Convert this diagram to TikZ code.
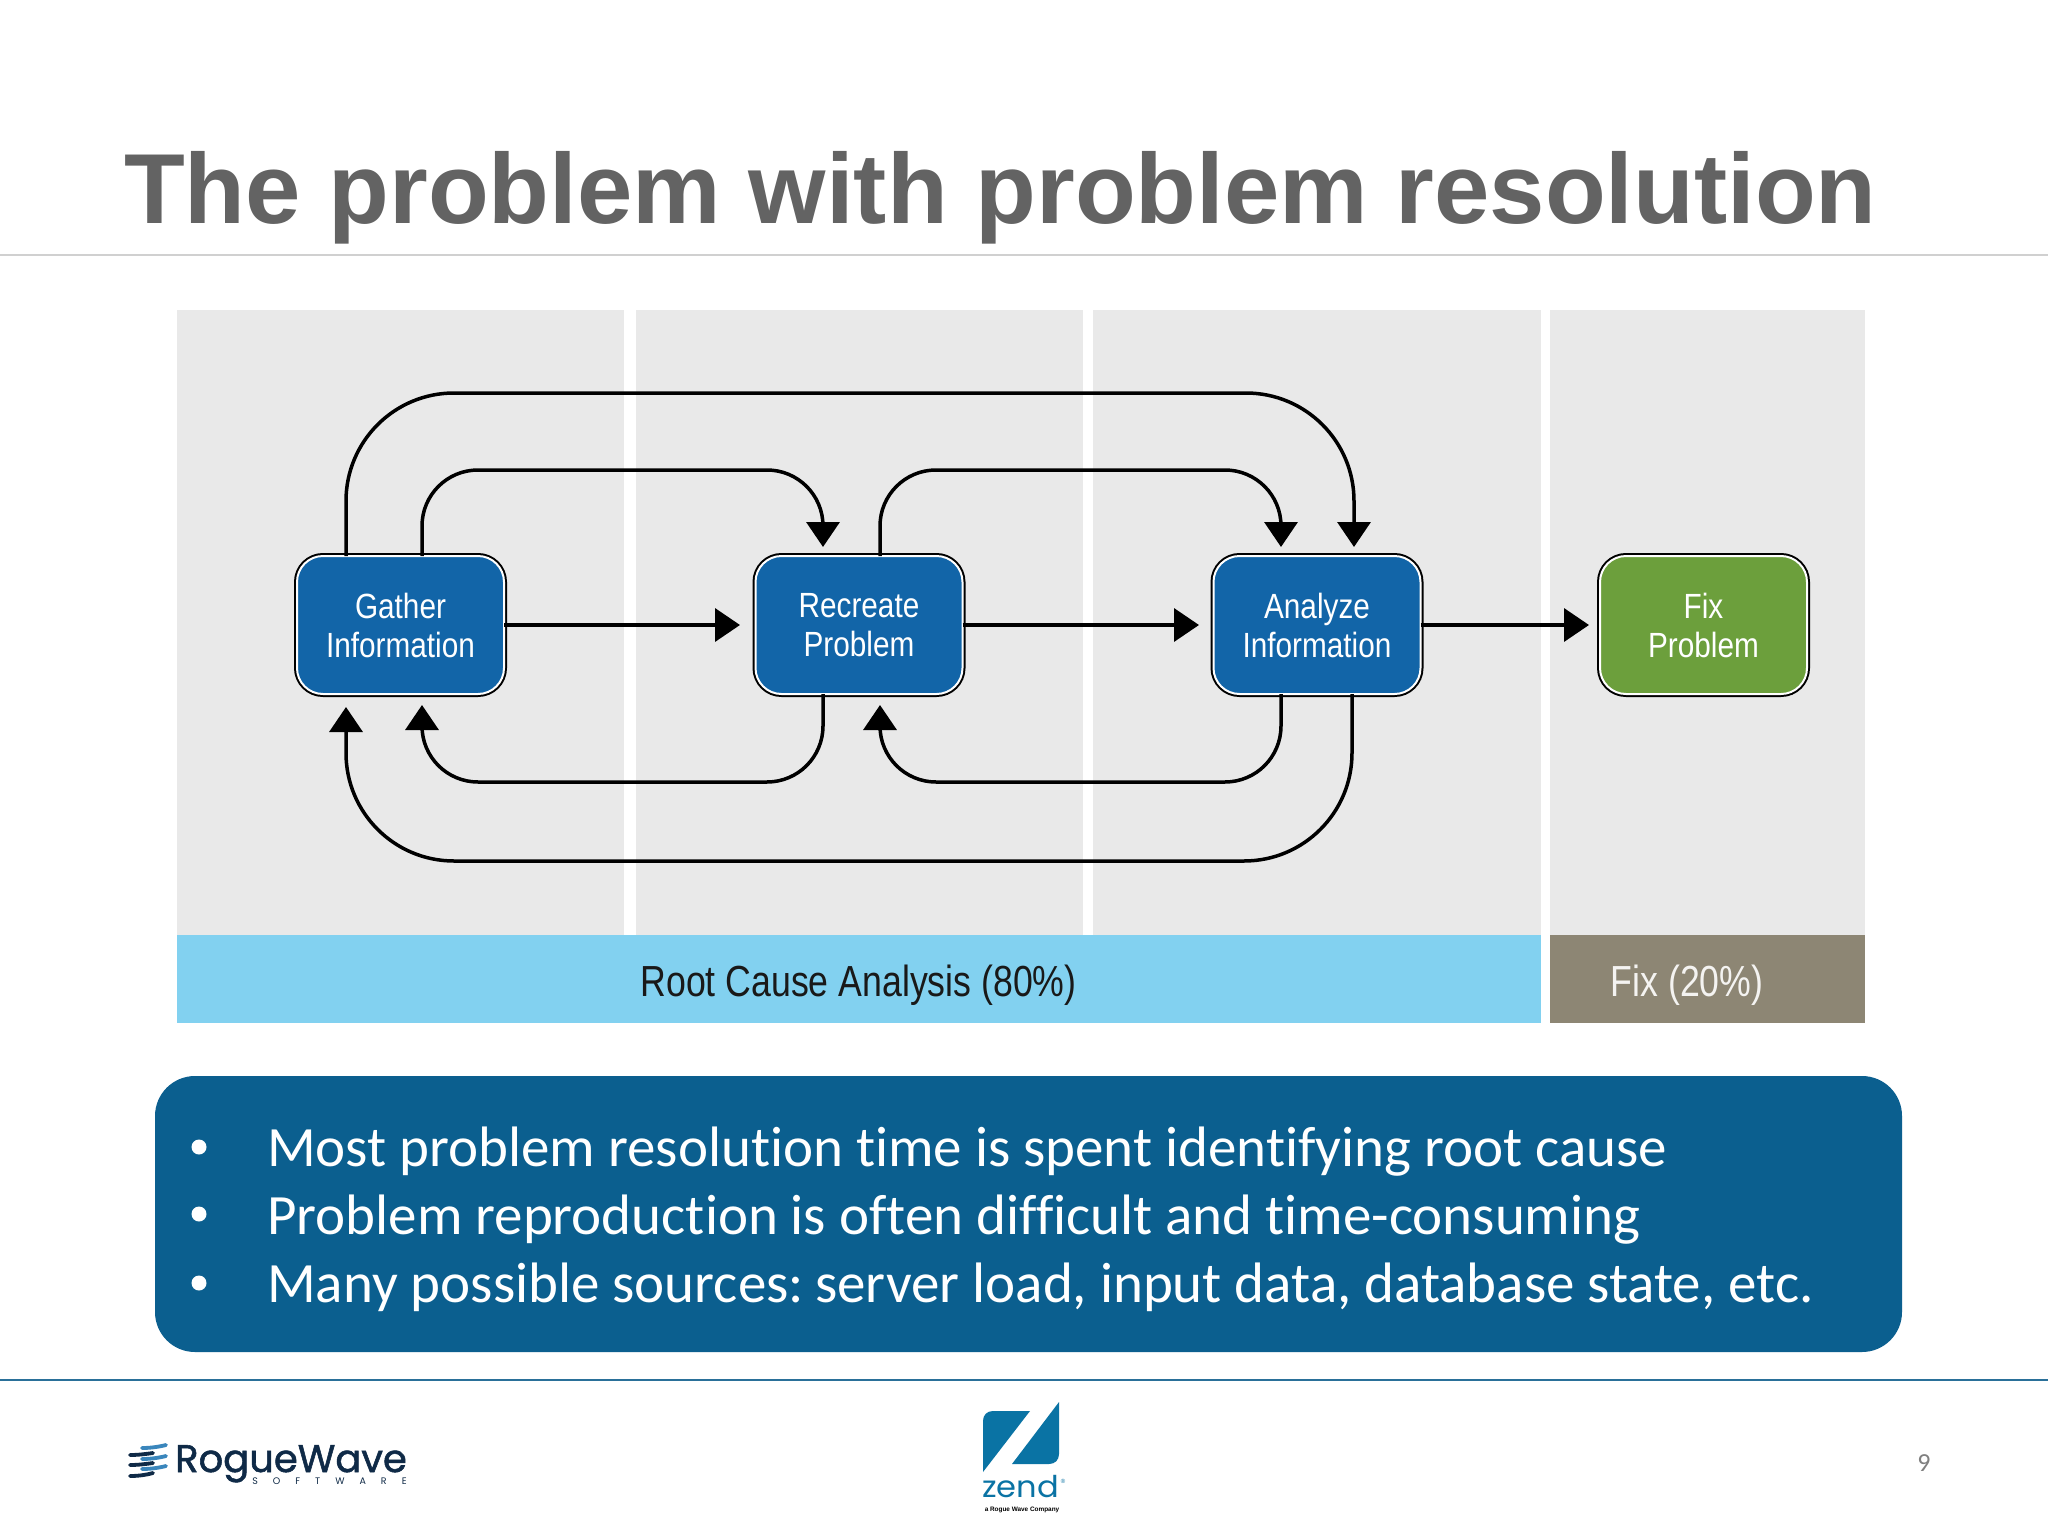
\documentclass[tikz,border=0pt]{standalone}
\usepackage{fontspec}
\setmainfont{Liberation Sans}
\newfontfamily\condfont[FakeStretch=0.85]{Liberation Sans}
\newfontfamily\barfont[FakeStretch=0.82]{Liberation Sans}
\newfontfamily\carfont[RawFeature={-liga}]{Carlito}
\newfontfamily\popfont{Poppins}
\newfontfamily\rwfont[FakeBold=1.4]{Poppins}
\newfontfamily\zendfont[FakeStretch=1.07]{Poppins}
\usetikzlibrary{arrows.meta}
\definecolor{panelgrey}{HTML}{E9E9E9}
\definecolor{boxblue}{HTML}{1265A8}
\definecolor{boxgreen}{HTML}{6C9F3C}
\definecolor{barblue}{HTML}{82D1F0}
\definecolor{bartan}{HTML}{8D8674}
\definecolor{banner}{HTML}{0B5F8F}
\definecolor{titlegrey}{HTML}{636363}
\definecolor{rulegrey}{HTML}{D0D0D0}
\definecolor{ruleblue}{HTML}{2A7099}
\definecolor{zendblue}{HTML}{0A73A4}
\definecolor{navy}{HTML}{0F2A47}
\definecolor{stripe}{HTML}{3A86BC}
\tikzset{
  x=1pt,y=-1pt,
  panel/.style={fill=panelgrey,draw=none},
  stepbox/.style={preaction={draw=black,line width=6pt},draw=white,line width=2pt,rounded corners=26pt,
    minimum width=207pt,minimum height=138pt,inner sep=0pt,outer sep=0pt,text=white,align=center,
    font=\condfont\fontsize{35}{39}\selectfont},
  conn/.style={draw=black,line width=3.5pt,-{Triangle[length=25pt,width=33pt]}},
  bartext/.style={anchor=base,inner sep=0pt,font=\barfont\fontsize{43.5}{43.5}\selectfont},
  barbox/.style={minimum height=88pt,inner sep=0pt,anchor=north west},
  bullettext/.style={anchor=base west,text=white,inner sep=0pt,font=\carfont\fontsize{57}{57}\selectfont},
  bulletdot/.style={circle,fill=white,minimum size=15pt,inner sep=0pt},
  rwstripe/.style={line width=3.8pt,line cap=round},
}
\begin{document}
\begin{tikzpicture}
\useasboundingbox (0,0) rectangle (2048,1536);
\fill[white] (0,0) rectangle (2048,1536);
% title
\node[anchor=base west,inner sep=0pt,text=titlegrey,font=\bfseries\fontsize{99.5}{99.5}\selectfont] (title) at (124,223) {The problem with problem resolution};
\draw[rulegrey,line width=1.5pt] (0,255) -- (2048,255);
% panels
\fill[panel] (177,310) rectangle (624,935);
\fill[panel] (636,310) rectangle (1083,935);
\fill[panel] (1093,310) rectangle (1541,935);
\fill[panel] (1550,310) rectangle (1865,935);
\node[barbox,fill=barblue,minimum width=1364pt] (rca) at (177,935) {};
\node[barbox,fill=bartan,minimum width=315pt] (fixbar) at (1550,935) {};
\node[bartext,text=black!90] (rcatext) at (858.5,996) {Root Cause Analysis (80\%)};
\node[bartext,text=white!90!bartan] (fixbartext) at (1687,996) {Fix (20\%)};
% boxes
\node[stepbox,fill=boxblue] (gather) at (400.5,625) {Gather\\Information};
\node[stepbox,fill=boxblue] (recreate) at (859,625) {Recreate\\Problem};
\node[stepbox,fill=boxblue] (analyze) at (1317,625) {Analyze\\Information};
\node[stepbox,fill=boxgreen] (fix) at (1703.5,625) {Fix\\Problem};
% rows
\coordinate (rowa) at (0,393);
\coordinate (rowb) at (0,470);
\coordinate (rowc) at (0,782);
\coordinate (rowd) at (0,861);
% free arrow ends
\coordinate (tipar) at (823,547);
\coordinate (tipaa) at (1281,547);
\coordinate (tipab) at (1354,547);
\coordinate (laneab) at (1352,700);
\coordinate (tipbg) at (422,705);
\coordinate (tipbr) at (880,705);
\coordinate (tipcg) at (346,707);
\coordinate (hrec) at (740,625);
\coordinate (hana) at (1199,625);
\coordinate (hfix) at (1589,625);
% connectors
\draw[conn] (gather.east |- hrec) -- (hrec);
\draw[conn] (recreate.east |- hana) -- (hana);
\draw[conn] (analyze.east |- hfix) -- (hfix);
\draw[conn,rounded corners=108pt] (gather.north -| tipcg) -- (tipcg |- rowa) -- (tipab |- rowa) -- (tipab);
\draw[conn,rounded corners=56pt] (gather.north -| tipbg) -- (tipbg |- rowb) -- (tipar |- rowb) -- (tipar);
\draw[conn,rounded corners=56pt] (recreate.north -| tipbr) -- (tipbr |- rowb) -- (tipaa |- rowb) -- (tipaa);
\draw[conn,rounded corners=56pt] (recreate.south -| tipar) -- (tipar |- rowc) -- (tipbg |- rowc) -- (tipbg);
\draw[conn,rounded corners=56pt] (analyze.south -| tipaa) -- (tipaa |- rowc) -- (tipbr |- rowc) -- (tipbr);
\draw[conn,rounded corners=108pt] (analyze.south -| laneab) -- (laneab |- rowd) -- (tipcg |- rowd) -- (tipcg);
% banner
\fill[banner,rounded corners=40pt] (155,1076) rectangle (1902,1352);
\node[bulletdot] (d1) at (199,1147) {};
\node[bulletdot] (d2) at (199,1214) {};
\node[bulletdot] (d3) at (199,1283) {};
\node[bullettext] (b1) at (267,1166) {Most problem resolution time is spent identifying root cause};
\node[bullettext] (b2) at (267,1234) {Problem reproduction is often difficult and time-consuming};
\node[bullettext] (b3) at (267,1302) {Many possible sources:\hspace{-6pt} server load, input data, database state, etc.};
% footer
\draw[ruleblue,line width=2pt] (0,1379.5) -- (2048,1379.5);
\node[anchor=center,inner sep=0pt,text=black!50,font=\carfont\fontsize{26}{26}\selectfont] (pageno) at (1924,1463) {9};
% rogue wave logo
\draw[rwstripe,stripe] (142,1448) .. controls (150,1448) and (158,1447) .. (166,1445);
\draw[rwstripe,navy] (130,1455) .. controls (138,1455) and (146,1454) .. (153,1453);
\draw[rwstripe,stripe] (142,1459) .. controls (150,1459) and (158,1458) .. (166,1456);
\draw[rwstripe,navy] (130,1465) .. controls (138,1465) and (146,1464) .. (153,1463);
\draw[rwstripe,stripe] (142,1469) .. controls (150,1469) and (158,1468) .. (166,1466);
\draw[rwstripe,navy] (130,1476) .. controls (138,1476) and (146,1475) .. (153,1473);
\node[anchor=base west,inner sep=0pt,text=navy,font=\rwfont\fontsize{38.5}{38.5}\selectfont] (rw) at (175,1472) {RogueWave};
\node[anchor=center,inner sep=0pt,text=navy,font=\popfont\fontsize{9.5}{9.5}\selectfont] (sw) at (329.5,1481) {S\hspace{15pt}O\hspace{15pt}F\hspace{15pt}T\hspace{15pt}W\hspace{15pt}A\hspace{15pt}R\hspace{15pt}E};
% zend logo
\fill[zendblue] (1030,1411) -- (993,1411) .. controls (987,1411) and (983,1415) .. (983,1421) -- (983,1472) -- cycle;
\fill[zendblue] (1059,1402) -- (1059,1454) .. controls (1059,1460) and (1055,1464) .. (1049,1464) -- (1012,1464) -- cycle;
\node[anchor=base west,inner sep=0pt,text=zendblue,font=\zendfont\fontsize{30}{30}\selectfont] (zendtxt) at (982,1497) {zend};
\node[anchor=center,inner sep=0pt,text=zendblue,font=\fontsize{6}{6}\selectfont] (zendreg) at (1063,1481) {®};
\node[anchor=center,inner sep=0pt,text=black,font=\bfseries\fontsize{6.4}{6.4}\selectfont] (zendsub) at (1022,1509.5) {a Rogue Wave Company};
\end{tikzpicture}
\end{document}
